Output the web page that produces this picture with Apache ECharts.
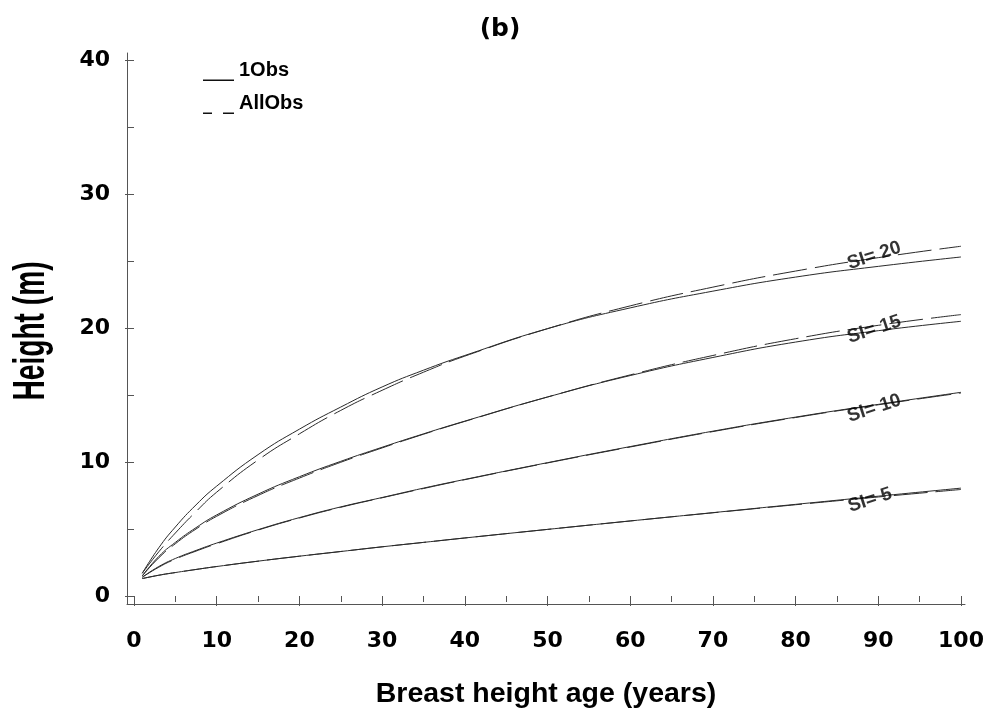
<!DOCTYPE html>
<html>
<head>
<meta charset="utf-8">
<script src="https://cdn.jsdelivr.net/npm/echarts@6/dist/echarts.min.js"></script>
<style>
  html, body { margin: 0; padding: 0; background: #fff; }
  #chart { width: 987px; height: 709px; }
</style>
</head>
<body>
<div id="chart"></div>
<script>
// Breast height age (years) at which heights are given
const ages = [1, 3, 5, 7.5, 10, 15, 20, 25, 30, 35, 40, 50, 60, 70, 80, 90, 100];

// Height (m) curves, fitted with one observation per tree (1Obs)
const si20_1Obs = [1.7, 3.6, 5.15, 6.8, 8.2, 10.55, 12.45, 14.1, 15.6, 16.85, 17.95, 19.95, 21.5, 22.75, 23.8, 24.6, 25.3];
const si15_1Obs = [1.5, 2.95, 4.0, 5.1, 6.05, 7.6, 8.9, 10.05, 11.1, 12.1, 13.05, 14.85, 16.45, 17.8, 18.95, 19.8, 20.5];
const si10_1Obs = [1.4, 2.2, 2.8, 3.4, 3.95, 4.95, 5.85, 6.65, 7.35, 8.05, 8.7, 9.95, 11.15, 12.3, 13.35, 14.3, 15.2];
const si5_1Obs  = [1.3, 1.55, 1.75, 1.98, 2.2, 2.6, 2.97, 3.32, 3.67, 4.0, 4.33, 4.97, 5.6, 6.22, 6.84, 7.45, 8.05];

// Height (m) curves, fitted with all observations (AllObs)
const si20_AllObs = [1.7, 3.3, 4.7, 6.3, 7.75, 10.15, 12.1, 13.85, 15.35, 16.7, 17.9, 19.95, 21.65, 23.05, 24.25, 25.25, 26.1];
const si15_AllObs = [1.5, 2.85, 3.9, 5.0, 5.95, 7.5, 8.8, 9.98, 11.05, 12.07, 13.03, 14.85, 16.5, 17.95, 19.2, 20.2, 21.0];
const si10_AllObs = [1.4, 2.15, 2.75, 3.35, 3.9, 4.92, 5.82, 6.62, 7.33, 8.02, 8.68, 9.93, 11.12, 12.27, 13.32, 14.27, 15.15];
const si5_AllObs  = [1.3, 1.55, 1.75, 1.98, 2.2, 2.6, 2.97, 3.32, 3.67, 4.0, 4.33, 4.97, 5.6, 6.21, 6.81, 7.39, 7.95];

// Site index curve labels, anchored in data units
const labelTexts   = ['SI= 20', 'SI= 15', 'SI= 10', 'SI= 5'];
const labelAges    = [89.5, 89.5, 89.5, 89.0];
const labelHeights = [25.4, 19.9, 14.0, 7.15];

// Axis tick settings
const xTicks = { min: 0, max: 100, interval: 10 };
const yTicks = { min: 0, max: 40, interval: 10 };

const solidCurves = [si20_1Obs, si15_1Obs, si10_1Obs, si5_1Obs];
const dashedCurves = [si20_AllObs, si15_AllObs, si10_AllObs, si5_AllObs];

const toPoints = vals => ages.map((a, i) => [a, vals[i]]);

const axisGray = '#555';
const curveColor = '#2a2a2a';
const tickFont = { fontFamily: 'DejaVu Sans', fontWeight: 'bold', fontSize: 22, color: '#000' };

// legend keys: a short line sitting at the bottom of the key box,
// so the text rides above it; the tiny first subpath fixes the box top
const solidKey  = 'path://M0,0L0.1,0M0,20.6L31,20.6L31,22L0,22Z';
const dashedKey = 'path://M0,0L0.1,0M0,20.6L9,20.6L9,22L0,22ZM20,20.6L31,20.6L31,22L20,22Z';

const curveSeries = [];
solidCurves.forEach(vals => curveSeries.push({
  name: '1Obs', type: 'line', xAxisIndex: 1, yAxisIndex: 1,
  data: toPoints(vals), smooth: 0.5,
  symbol: 'none', showSymbol: false,
  lineStyle: { color: curveColor, width: 1, type: 'solid' },
  itemStyle: { color: curveColor }
}));
dashedCurves.forEach(vals => curveSeries.push({
  name: 'AllObs', type: 'line', xAxisIndex: 1, yAxisIndex: 1,
  data: toPoints(vals), smooth: 0.5,
  symbol: 'none', showSymbol: false,
  lineStyle: { color: curveColor, width: 1, type: [34, 8] },
  itemStyle: { color: curveColor }
}));

const labelSeries = {
  name: 'SI labels', type: 'scatter', xAxisIndex: 1, yAxisIndex: 1,
  silent: true, symbolSize: 1,
  itemStyle: { color: 'transparent' },
  data: labelTexts.map((t, i) => [labelAges[i], labelHeights[i], t]),
  label: {
    show: true, position: 'inside', rotate: 18,
    formatter: p => p.data[2],
    fontFamily: 'Liberation Sans', fontWeight: 'bold', fontSize: 19, color: '#000'
  },
  z: 5
};

const option = {
  animation: false,
  backgroundColor: '#fff',
  title: {
    text: '(b)', left: 495, top: 12, textAlign: 'center',
    textStyle: { fontFamily: 'DejaVu Sans', fontWeight: 'bold', fontSize: 25, color: '#000' }
  },
  legend: {
    left: 203, top: 59, orient: 'vertical', padding: 0,
    itemWidth: 31, itemHeight: 22, itemGap: 11,
    data: [
      { name: '1Obs', icon: solidKey },
      { name: 'AllObs', icon: dashedKey }
    ],
    itemStyle: { color: '#111', borderWidth: 0 },
    textStyle: { fontFamily: 'Liberation Sans', fontWeight: 'bold', fontSize: 20, color: '#000' }
  },
  grid: [
    // outer frame carrying the axis lines
    { left: 127, right: 22, top: 53, bottom: 105, outerBoundsMode: 'none', containLabel: false },
    // plotting region spanning the data range
    { left: 134, right: 26, top: 60, bottom: 113, outerBoundsMode: 'none', containLabel: false }
  ],
  xAxis: [
    {
      gridIndex: 0, type: 'value', min: 0, max: 1,
      axisLine: { show: true, lineStyle: { color: axisGray, width: 1 } },
      axisTick: { show: false }, axisLabel: { show: false }, splitLine: { show: false },
      name: 'Breast height age (years)', nameLocation: 'middle', nameGap: 76,
      nameTextStyle: { fontFamily: 'Liberation Sans', fontWeight: 'bold', fontSize: 28.5, color: '#000' }
    },
    {
      gridIndex: 1, type: 'value', min: xTicks.min, max: xTicks.max, interval: xTicks.interval,
      offset: 8,
      axisLine: { show: false },
      axisTick: { show: true, length: 10, lineStyle: { color: axisGray } },
      minorTick: { show: true, splitNumber: 2, length: 6, lineStyle: { color: axisGray } },
      axisLabel: Object.assign({ margin: 26 }, tickFont),
      splitLine: { show: false }
    }
  ],
  yAxis: [
    {
      gridIndex: 0, type: 'value', min: 0, max: 1,
      axisLine: { show: true, lineStyle: { color: axisGray, width: 1 } },
      axisTick: { show: false }, axisLabel: { show: false }, splitLine: { show: false }
    },
    {
      gridIndex: 1, type: 'value', min: yTicks.min, max: yTicks.max, interval: yTicks.interval,
      offset: 7,
      axisLine: { show: false },
      axisTick: { show: true, length: 9, lineStyle: { color: axisGray } },
      minorTick: { show: true, splitNumber: 2, length: 6, lineStyle: { color: axisGray } },
      axisLabel: Object.assign({ margin: 17 }, tickFont),
      splitLine: { show: false }
    }
  ],
  // vertical axis title in a tall, narrow bold face
  graphic: [{
    type: 'text', x: 32, y: 331, rotation: Math.PI / 2, scaleX: 0.64, scaleY: 1,
    style: {
      text: 'Height (m)', fontFamily: 'Liberation Sans', fontWeight: 'bold', fontSize: 44,
      fill: '#000', align: 'center', verticalAlign: 'middle'
    }
  }],
  series: curveSeries.concat([labelSeries])
};

const chart = echarts.init(document.getElementById('chart'), null, { renderer: 'canvas' });
chart.setOption(option);
</script>
</body>
</html>
